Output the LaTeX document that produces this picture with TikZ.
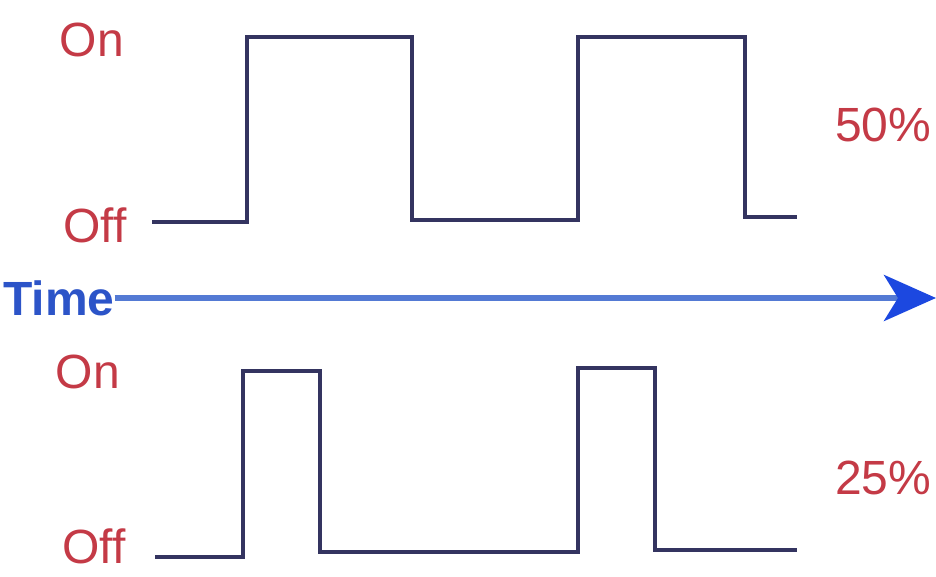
\documentclass[tikz,border=0pt]{standalone}
\usepackage{fontspec}
\setmainfont{Liberation Sans}
\usetikzlibrary{arrows.meta}

\definecolor{pwmLevel}{RGB}{196,58,70}
\definecolor{pwmWave}{RGB}{52,52,96}
\definecolor{pwmTime}{RGB}{84,122,212}
\definecolor{pwmTip}{RGB}{28,72,224}
\definecolor{pwmLabel}{RGB}{44,84,200}

\begin{document}
\begin{tikzpicture}[x=1pt,y=-1pt,
      level/.style={font=\fontsize{48}{50}\selectfont,
        text=pwmLevel, inner sep=0pt},
      duty/.style={font=\fontsize{48}{50}\selectfont,
        text=pwmLevel, inner sep=0pt, anchor=west},
      wave/.style={draw=pwmWave, line width=4pt, line join=miter},
      axis/.style={draw=pwmTime, line width=6pt,
        -{Stealth[length=52pt,width=46pt,inset=14pt,color=pwmTip]}}]
      \useasboundingbox (0,0) rectangle (936,577);
      \fill[white] (0,0) rectangle (936,577);

      % 50% duty cycle
      \node[level] (onA) at (92,40) {On};
      \node[level] (offA) at (95,225) {Off};
      \draw[wave] (152,222) -- (247,222) -- (247,37) -- (412,37)
        -- (412,220) -- (578,220) -- (578,37) -- (745,37)
        -- (745,217) -- (797,217);
      \node[duty] (dutyA) at (835,125) {50\%};

      % time axis
      \node[font=\fontsize{48}{50}\selectfont\bfseries, text=pwmLabel,
        inner sep=0pt, anchor=west] (time) at (3,298) {Time};
      \coordinate (timeEnd) at (936,298);
      \draw[axis] (time.east) -- (timeEnd);

      % 25% duty cycle
      \node[level] (onB) at (88,372) {On};
      \node[level] (offB) at (94,546) {Off};
      \draw[wave] (155,557) -- (243,557) -- (243,371) -- (320,371)
        -- (320,552) -- (578,552) -- (578,368) -- (655,368)
        -- (655,550) -- (797,550);
      \node[duty] (dutyB) at (835,478) {25\%};
    \end{tikzpicture}
\end{document}
